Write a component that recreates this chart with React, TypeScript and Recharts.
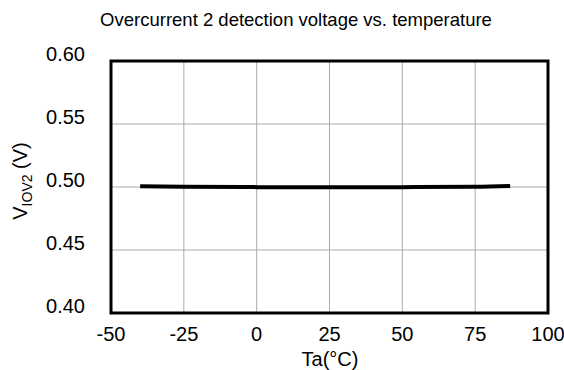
import React from "react";
import {
  LineChart,
  Line,
  XAxis,
  YAxis,
  CartesianGrid,
  ReferenceArea,
} from "recharts";

// temperature (°C) vs. overcurrent 2 detection voltage (V)
const temps = [-40, -25, 0, 25, 50, 75, 87];
const voltages = [0.5005, 0.5001, 0.4999, 0.4998, 0.4999, 0.5001, 0.5007];

const xTicks = [-50, -25, 0, 25, 50, 75, 100];
const yTicks = [0.4, 0.45, 0.5, 0.55, 0.6];

const chartData = temps.map((t, i) => ({ ta: t, v: voltages[i] }));

const FONT = "Arial, 'Liberation Sans', sans-serif";

function XTick(props: any) {
  const { x, y, payload } = props;
  return (
    <text x={x} y={y + 20} textAnchor="middle" fontSize={20} fill="#000" fontFamily={FONT}>
      {payload.value}
    </text>
  );
}

function YTick(props: any) {
  const { y, payload } = props;
  return (
    <text x={85} y={y} dy={0} textAnchor="end" fontSize={20} fill="#000" fontFamily={FONT}>
      {Number(payload.value).toFixed(2)}
    </text>
  );
}

function YLabel() {
  return (
    <text
      transform="translate(27, 181) rotate(-90)"
      textAnchor="middle"
      fontSize={20}
      fill="#000"
      fontFamily={FONT}
    >
      V
      <tspan fontSize={14} dy={5}>IOV2</tspan>
      <tspan dy={-5}> (V)</tspan>
    </text>
  );
}

function XLabel() {
  return (
    <text x={330} y={366} textAnchor="middle" fontSize={20} fill="#000" fontFamily={FONT}>
      Ta(°C)
    </text>
  );
}

export default function App() {
  return (
    <div style={{ position: "absolute", left: 0, top: 0, width: 564, height: 370, background: "#fff" }}>
      <div
        style={{
          position: "absolute",
          left: 0,
          width: 592,
          top: 9,
          textAlign: "center",
          fontFamily: FONT,
          fontSize: 18.5,
          color: "#000",
          zIndex: 1,
        }}
      >
        Overcurrent 2 detection voltage vs. temperature
      </div>
      <LineChart
        width={564}
        height={370}
        data={chartData}
        margin={{ top: 61, right: 16, bottom: 0, left: 0 }}
      >
        <CartesianGrid stroke="#ababab" strokeWidth={1} />
        <XAxis
          dataKey="ta"
          type="number"
          domain={[-50, 100]}
          ticks={xTicks}
          height={57}
          axisLine={false}
          tickLine={false}
          tick={<XTick />}
          label={<XLabel />}
        />
        <YAxis
          type="number"
          domain={[0.4, 0.6]}
          ticks={yTicks}
          width={111}
          axisLine={false}
          tickLine={false}
          tick={<YTick />}
          label={<YLabel />}
        />
        <ReferenceArea
          x1={-50}
          x2={100}
          y1={0.4}
          y2={0.6}
          fill="none"
          stroke="#000"
          strokeWidth={3}
          ifOverflow="visible"
        />
        <Line
          type="monotone"
          dataKey="v"
          stroke="#000"
          strokeWidth={4}
          dot={false}
          isAnimationActive={false}
        />
      </LineChart>
    </div>
  );
}
